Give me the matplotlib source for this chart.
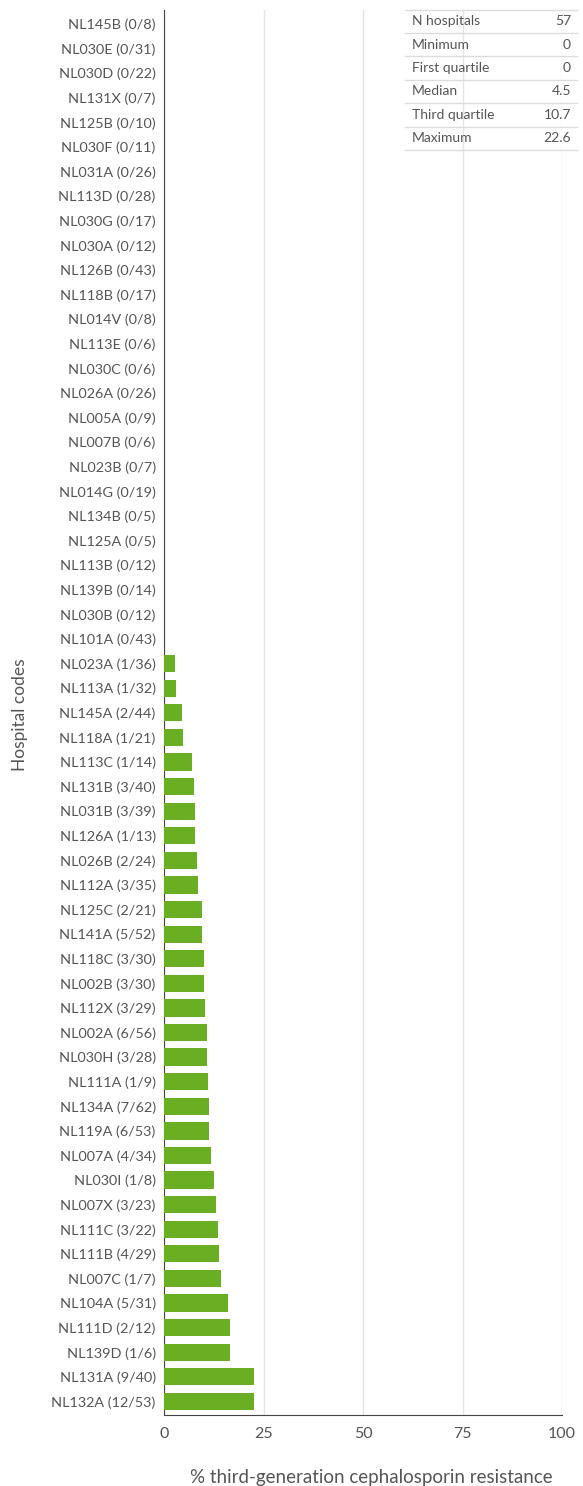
import matplotlib
matplotlib.use("Agg")
import matplotlib.pyplot as plt
from matplotlib.lines import Line2D

plt.rcParams['font.family'] = ['Lato', 'DejaVu Sans']

hospitals = ['NL145B', 'NL030E', 'NL030D', 'NL131X', 'NL125B', 'NL030F', 'NL031A',
             'NL113D', 'NL030G', 'NL030A', 'NL126B', 'NL118B', 'NL014V', 'NL113E',
             'NL030C', 'NL026A', 'NL005A', 'NL007B', 'NL023B', 'NL014G', 'NL134B',
             'NL125A', 'NL113B', 'NL139B', 'NL030B', 'NL101A', 'NL023A', 'NL113A',
             'NL145A', 'NL118A', 'NL113C', 'NL131B', 'NL031B', 'NL126A', 'NL026B',
             'NL112A', 'NL125C', 'NL141A', 'NL118C', 'NL002B', 'NL112X', 'NL002A',
             'NL030H', 'NL111A', 'NL134A', 'NL119A', 'NL007A', 'NL030I', 'NL007X',
             'NL111C', 'NL111B', 'NL007C', 'NL104A', 'NL111D', 'NL139D', 'NL131A',
             'NL132A']
resistant = [0, 0, 0, 0, 0, 0, 0, 0, 0, 0, 0, 0, 0, 0, 0, 0, 0, 0, 0, 0, 0, 0, 0, 0, 0, 0,
             1, 1, 2, 1, 1, 3, 3, 1, 2, 3, 2, 5, 3, 3, 3, 6, 3, 1, 7, 6, 4, 1, 3, 3, 4,
             1, 5, 2, 1, 9, 12]
tested = [8, 31, 22, 7, 10, 11, 26, 28, 17, 12, 43, 17, 8, 6, 6, 26, 9, 6, 7, 19, 5, 5,
          12, 14, 12, 43, 36, 32, 44, 21, 14, 40, 39, 13, 24, 35, 21, 52, 30, 30, 29, 56,
          28, 9, 62, 53, 34, 8, 23, 22, 29, 7, 31, 12, 6, 40, 53]

stat_names = ['N hospitals', 'Minimum', 'First quartile', 'Median', 'Third quartile', 'Maximum']
stat_values = ['57', '0', '0', '4.5', '10.7', '22.6']

pct = [100 * r / n for r, n in zip(resistant, tested)]
labels = [f'{h} ({r}/{n})' for h, r, n in zip(hospitals, resistant, tested)]

text_col = '#555555'
W, H = 583, 1486
fig = plt.figure(figsize=(W / 100, H / 100), dpi=100)
ax = fig.add_axes([164 / W, 1 - 1415 / H, 398 / W, 1405 / H])

y = list(range(len(pct)))
ax.barh(y, pct, height=0.7, color='#6aaf23', zorder=3)
ax.set_ylim(56.55, -0.57)
ax.set_xlim(0, 100)
ax.set_yticks(y)
ax.set_yticklabels(labels)
ax.set_xticks([0, 25, 50, 75, 100])
ax.tick_params(axis='y', length=0, pad=6, labelsize=10.4, labelcolor=text_col)
ax.tick_params(axis='x', length=0, pad=9, labelsize=11.5, labelcolor=text_col)
ax.grid(axis='x', color='#e5e5e5', linewidth=1, zorder=0)
for s in ['top', 'right']:
    ax.spines[s].set_visible(False)
ax.spines['left'].set_color('#444444')
ax.spines['bottom'].set_color('#444444')

fig.text(553 / W, 1 - 1477 / H, '% third-generation cephalosporin resistance',
         ha='right', va='center', fontsize=13.5, color=text_col)
fig.text(20 / W, 1 - 715 / H, 'Hospital codes', ha='center', va='center',
         rotation=90, fontsize=12.5, color=text_col)

# summary table in upper right
x0, x1 = 405 / W, 577 / W
row_h = 23.4
top = 9.5
for i in range(len(stat_names) + 1):
    yy = 1 - (top + i * row_h) / H
    fig.add_artist(Line2D([x0, x1], [yy, yy], color='#dddddd', linewidth=1,
                          transform=fig.transFigure))
for i, (nm, val) in enumerate(zip(stat_names, stat_values)):
    yy = 1 - (top + (i + 0.5) * row_h) / H
    fig.text(x0 + 7 / W, yy, nm, ha='left', va='center', fontsize=10, color=text_col)
    fig.text(x1 - 6 / W, yy, val, ha='right', va='center', fontsize=10, color=text_col)

fig.savefig('out.png', dpi=100, facecolor='white')
